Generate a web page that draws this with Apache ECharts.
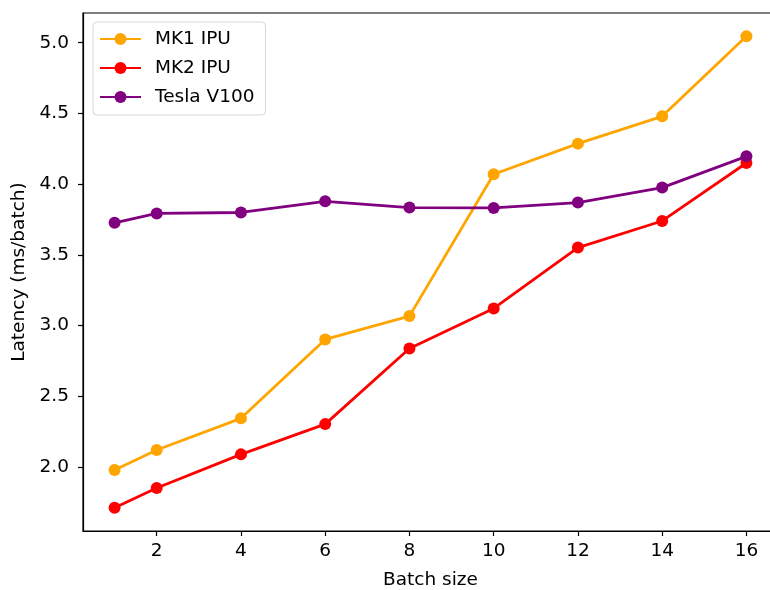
<!DOCTYPE html>
<html>
<head>
<meta charset="utf-8">
<script src="https://cdn.jsdelivr.net/npm/echarts@6/dist/echarts.min.js"></script>
<style>html,body{margin:0;padding:0;background:#fff;overflow:hidden}#c{width:770px;height:590px}</style>
</head>
<body>
<div id="c"></div>
<script>
const batchSizes = [1, 2, 4, 6, 8, 10, 12, 14, 16];
const mk1 = [1.977, 2.119, 2.343, 2.901, 3.066, 4.069, 4.286, 4.479, 5.045];
const mk2 = [1.711, 1.850, 2.088, 2.302, 2.837, 3.120, 3.551, 3.739, 4.149];
const v100 = [3.726, 3.792, 3.799, 3.878, 3.834, 3.831, 3.869, 3.975, 4.196];
const xTicks = [2, 4, 6, 8, 10, 12, 14, 16];
const yTicks = [2.0, 2.5, 3.0, 3.5, 4.0, 4.5, 5.0];
const seriesNames = ['MK1 IPU', 'MK2 IPU', 'Tesla V100'];
const seriesColors = ['#FFA500', '#FF0000', '#800080'];
const seriesData = [mk1, mk2, v100];

const font = 'DejaVu Sans';
const fs = 18.5;
const chart = echarts.init(document.getElementById('c'), null, {renderer: 'canvas'});
chart.setOption({
  animation: false,
  backgroundColor: '#fff',
  grid: {left: 83, top: 13, width: 695, height: 518, show: true, borderColor: '#000', borderWidth: 1.2, backgroundColor: 'transparent', containLabel: false, outerBoundsMode: 'none'},
  legend: {
    orient: 'vertical', left: 93, top: 22,
    padding: [7, 11, 8, 6], itemGap: 9, itemWidth: 41, itemHeight: 15,
    borderColor: '#d6d6d6', borderWidth: 1, borderRadius: 4,
    textStyle: {fontFamily: font, fontSize: fs, lineHeight: 20, color: '#000', padding: [0, 0, 0, 9]},
    data: seriesNames
  },
  xAxis: {
    type: 'value', min: 0.25, max: 16.75,
    name: 'Batch size', nameLocation: 'middle', nameGap: 40,
    nameTextStyle: {fontFamily: font, fontSize: fs, color: '#000'},
    axisLine: {show: true, onZero: false, lineStyle: {color: '#000', width: 1.2}},
    axisTick: {show: true, length: 5, lineStyle: {color: '#000', width: 1.2}, customValues: xTicks},
    axisLabel: {fontFamily: font, fontSize: fs, color: '#000', margin: 11, customValues: xTicks, formatter: v => String(v)},
    splitLine: {show: false}
  },
  yAxis: {
    type: 'value', min: 1.546, max: 5.21,
    name: 'Latency (ms/batch)', nameLocation: 'middle', nameGap: 50, nameRotate: 90,
    nameTextStyle: {fontFamily: font, fontSize: fs, color: '#000'},
    axisLine: {show: true, onZero: false, lineStyle: {color: '#000', width: 1.2}},
    axisTick: {show: true, length: 5, lineStyle: {color: '#000', width: 1.2}, customValues: yTicks},
    axisLabel: {fontFamily: font, fontSize: fs, color: '#000', margin: 14, customValues: yTicks, formatter: v => v.toFixed(1)},
    splitLine: {show: false}
  },
  series: seriesNames.map((n, i) => ({
    name: n, type: 'line',
    data: batchSizes.map((b, j) => [b, seriesData[i][j]]),
    symbol: 'circle', symbolSize: 12,
    itemStyle: {color: seriesColors[i]},
    lineStyle: {color: seriesColors[i], width: 2.8},
    z: 2 + (i === 2 ? 1 : 0)
  }))
});
</script>
</body>
</html>
